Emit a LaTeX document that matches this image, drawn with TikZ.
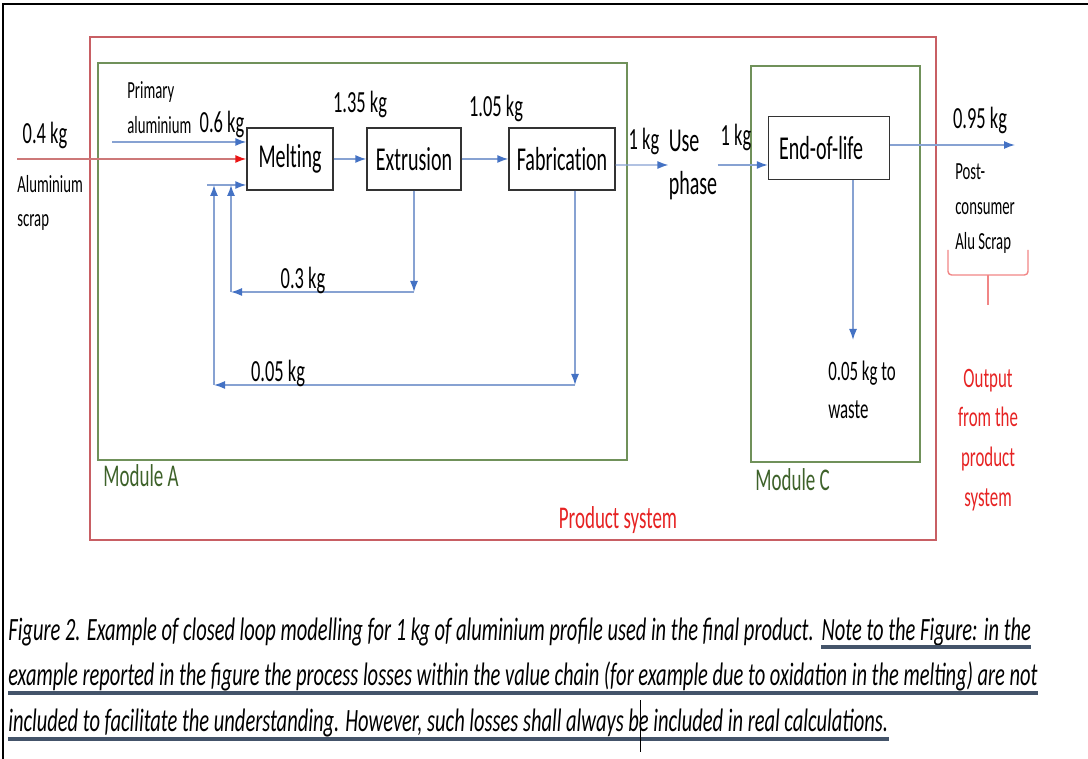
\documentclass[tikz,border=0pt]{standalone}
\usepackage{fontspec}
\setmainfont{Carlito}[FakeStretch=0.6, Ligatures=NoCommon]
\newfontfamily\captionfont{Carlito}[FakeStretch=0.631]
\usepackage{tikz}
\usetikzlibrary{arrows.meta}
\usetikzlibrary{positioning}
\definecolor{flowblue}{RGB}{68,114,196}
\definecolor{flowline}{RGB}{135,162,210}
\definecolor{scrapred}{RGB}{205,120,120}
\definecolor{tipred}{RGB}{235,20,20}
\definecolor{systemred}{RGB}{200,95,100}
\definecolor{modulegreen}{RGB}{112,145,90}
\definecolor{moduletext}{RGB}{62,98,42}
\definecolor{outputred}{RGB}{230,35,35}
\definecolor{ulinecolor}{RGB}{68,84,106}
\tikzstyle{process} = [draw=black!80, thick, minimum height=1.24cm, inner sep=0, font=\fontsize{19}{21}\selectfont]
\tikzstyle{flow} = [draw=flowline, thick, -{Latex[length=2.2mm, width=1.6mm, color=flowblue]}]
\tikzstyle{mass} = [inner sep=0, font=\fontsize{17.5}{19}\selectfont]
\tikzstyle{small} = [inner sep=0, align=left, font=\fontsize{14}{19}\selectfont]
\tikzstyle{caption} = [inner sep=0, anchor=base west, font=\captionfont\fontsize{18.5}{20}\selectfont\itshape]
\tikzstyle{uline} = [ulinecolor, line width=2.6pt]

\begin{document}
\begin{tikzpicture}[x=0.02cm, y=-0.02cm]
            \useasboundingbox (0,0) rectangle (1088,759);
            \draw[black, thick] (3,759) -- (3,4) -- (1088,4);

            % System and modules
            \draw[systemred, thick] (90,37) rectangle (936,540);
            \draw[modulegreen, thick] (98,63) rectangle (627,460);
            \draw[modulegreen, thick] (751,66) rectangle (920,462);

            % Nodes
            \node[process, minimum width=1.72cm] (melt) at (290,159) {Melting};
            \node[process, minimum width=1.88cm] (extr) at (414,159) {Extrusion};
            \node[process, minimum width=2.12cm] (fabr) at (562,159) {Fabrication};
            \node[align=left, inner sep=0, font=\fontsize{19}{25}\selectfont] (use) at (693,165) {Use\\phase};
            \node[process, minimum width=2.42cm, minimum height=1.26cm] (eol) at (829,148) {End-of-life\kern 9pt};
            \node[mass, align=left, font=\fontsize{16}{22}\selectfont] (waste) at (862,390) {0.05 kg to\\waste};

            % Free ends of the flows
            \coordinate (scrapin) at (17,159);
            \coordinate (primin) at (112,142);
            \coordinate (recin) at (207,185);
            \coordinate (joinB) at (214,185);
            \coordinate (joinA) at (231,185);
            \coordinate (cornerA) at (231,292);
            \coordinate (cornerB) at (214,385);
            \coordinate (extdown) at (414,292);
            \coordinate (fabdown) at (575,385);
            \coordinate (scrapout) at (1015,145);
            \coordinate (wastedown) at (853,340);

            % Connecting lines
            \draw[scrapred, thick, -{Latex[length=2.2mm, width=1.6mm, color=tipred]}] (scrapin) -- (melt.west);
            \draw[flow] (primin) -- (primin -| melt.west);
            \draw[flow] (recin) -- (recin -| melt.west);
            \draw[flow] (melt.east) -- (extr.west);
            \draw[flow] (extr.east) -- (fabr.west);
            \draw[flow] ([yshift=-3.4pt]fabr.east) -- (use.west);
            \draw[flow] (use.east) -- (use.east -| eol.west);
            \draw[flow] (eol.east |- scrapout) -- (scrapout);
            \draw[flow] (eol.south -| wastedown) -- (wastedown);
            \draw[flow] (extr.south) -- (extdown);
            \draw[flow] (extdown) -- (cornerA);
            \draw[flow] (cornerA) -- (joinA);
            \draw[flow] (fabr.south -| fabdown) -- (fabdown);
            \draw[flow] (fabdown) -- (cornerB);
            \draw[flow] (cornerB) -- (joinB);

            % Labels
            \node[mass] (scrapkg) at (45,135) {0.4 kg};
            \node[small, anchor=west] (scraplbl) at (17,203) {Aluminium\\scrap};
            \node[small, anchor=west] (primlbl) at (127,92) {Primary};
            \node[small, anchor=west] (primlbl2) at (127,125) {aluminium};
            \node[mass] (primkg) at (222,124) {0.6 kg};
            \node[mass] (meltkg) at (360,104) {1.35 kg};
            \node[mass] (extrkg) at (496,108) {1.05 kg};
            \node[mass] (fabrkg) at (644,141) {1 kg};
            \node[mass] (usekg) at (736,137) {1 kg};
            \node[mass] (outkg) at (980,120) {0.95 kg};
            \node[small, anchor=north west, font=\fontsize{14}{20}\selectfont] (outlbl) at (955,163) {Post-\\consumer\\Alu Scrap};
            \node[mass] (loopAkg) at (303,280) {0.3 kg};
            \node[mass] (loopBkg) at (278,373) {0.05 kg};

            % Module and system labels
            \node[inner sep=0, moduletext, anchor=west, font=\fontsize{18}{20}\selectfont] (modA) at (103,476) {Module A};
            \node[inner sep=0, moduletext, anchor=west, font=\fontsize{18}{20}\selectfont] (modC) at (755,480) {Module C};
            \node[inner sep=0, outputred, font=\fontsize{18}{20}\selectfont] (prodsys) at (618,520) {Product system};
            \node[inner sep=0, outputred, align=center, font=\fontsize{16}{22.7}\selectfont] (output) at (988,440) {Output\\from the\\product\\system};
            \draw[outputred!55, thick, rounded corners=2pt] (948,250) -- (948,275) -- (1028,275) -- (1028,250);
            \draw[outputred!55, thick] (988,275) -- (988,305);

            % Caption
            \node[caption] (cap1) at (8,640) {Figure 2. Example of closed loop modelling for 1 kg of aluminium profile used in the final product.};
            \node[caption] (cap1n) at ([xshift=4pt]cap1.base east) {Note to the Figure: in the};
            \node[caption] (cap2) at (8,685) {example reported in the figure the process losses within the value chain (for example due to oxidation in the melting) are not};
            \node[caption] (cap3) at (8,731) {included to facilitate the understanding. However, such losses shall always be included in real calculations.};
            \draw[uline] ([yshift=-4pt]cap1n.base west) -- ([yshift=-4pt]cap1n.base east);
            \draw[uline] ([yshift=-4.5pt]cap2.base west) -- ([yshift=-4.5pt]cap2.base east);
            \draw[uline] ([yshift=-4.5pt]cap3.base west) -- ([yshift=-4.5pt]cap3.base east);
            \draw[black] (640,700) -- (640,752);
        \end{tikzpicture}
\end{document}
